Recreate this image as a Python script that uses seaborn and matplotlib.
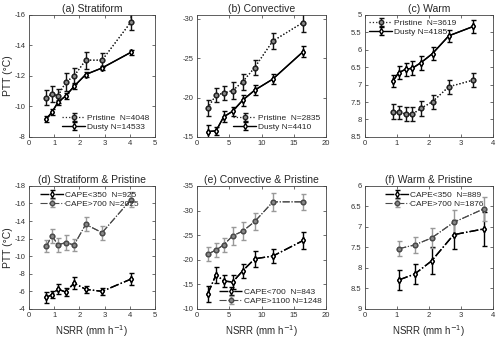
import numpy as np
import pandas as pd
import matplotlib
matplotlib.use("Agg")
import matplotlib.pyplot as plt
import seaborn as sns

sns.set_style("ticks")
plt.rcParams['font.family'] = ['Liberation Sans', 'DejaVu Sans']
plt.rcParams['xtick.direction'] = 'in'
plt.rcParams['ytick.direction'] = 'in'

# ---- data ----
x_a = [0.69, 0.91, 1.15, 1.46, 1.79, 2.25, 2.90, 4.05]
a_pri = [-10.58, -10.82, -10.69, -11.58, -12.0, -13.03, -13.03, -15.54]
a_pri_err = [0.5, 0.5, 0.45, 0.6, 0.5, 0.55, 0.45, 0.55]
a_dus = [-9.18, -9.62, -10.27, -10.69, -11.32, -12.09, -12.52, -13.55]
a_dus_err = [0.2, 0.2, 0.15, 0.2, 0.2, 0.15, 0.15, 0.15]

x_b = [1.65, 2.95, 4.13, 5.53, 7.08, 8.94, 11.73, 16.43]
b_pri = [-18.64, -20.34, -20.55, -20.89, -21.99, -23.81, -27.16, -29.53]
b_pri_err = [1.0, 0.9, 0.9, 1.1, 1.0, 1.0, 1.0, 1.2]
b_dus = [-15.68, -15.76, -17.54, -18.26, -19.66, -20.93, -22.33, -25.81]
b_dus_err = [0.8, 0.5, 0.7, 0.6, 0.7, 0.6, 0.6, 0.7]

x_c = [0.88, 1.05, 1.27, 1.48, 1.75, 2.11, 2.62, 3.39]
c_pri = [7.78, 7.80, 7.84, 7.85, 7.68, 7.49, 7.06, 6.87]
c_pri_err = [0.22, 0.2, 0.2, 0.2, 0.22, 0.2, 0.2, 0.2]
c_dus = [6.89, 6.66, 6.56, 6.53, 6.37, 6.11, 5.60, 5.33]
c_dus_err = [0.17, 0.18, 0.18, 0.2, 0.2, 0.18, 0.18, 0.18]

x_d = [0.69, 0.91, 1.15, 1.45, 1.79, 2.25, 2.90, 4.05]
d_low = [-5.32, -5.62, -6.26, -5.92, -6.94, -6.23, -6.0, -7.40]
d_low_err = [0.6, 0.4, 0.6, 0.5, 0.7, 0.4, 0.4, 0.7]
d_high = [-11.13, -12.34, -11.28, -11.55, -11.28, -13.62, -12.68, -16.45]
d_high_err = [0.7, 0.8, 0.8, 0.9, 0.7, 0.8, 0.8, 0.8]

x_e = [1.66, 2.95, 4.15, 5.54, 7.10, 8.96, 11.76, 16.48]
e_low = [-13.04, -16.96, -15.68, -15.47, -17.77, -20.2, -20.74, -23.92]
e_low_err = [1.7, 1.6, 1.3, 1.4, 1.4, 1.6, 1.4, 1.8]
e_high = [-21.15, -21.96, -23.04, -24.86, -25.81, -27.77, -31.76, -31.76]
e_high_err = [1.5, 1.5, 1.4, 1.8, 1.8, 1.7, 1.8, 1.6]

x_f = [1.07, 1.55, 2.08, 2.77, 3.71]
f_low = [8.29, 8.15, 7.83, 7.19, 7.05]
f_low_err = [0.25, 0.25, 0.33, 0.35, 0.42]
f_high = [7.53, 7.44, 7.27, 6.89, 6.56]
f_high_err = [0.18, 0.2, 0.25, 0.3, 0.3]

titles = ["(a) Stratiform", "(b) Convective", "(c) Warm",
          "(d) Stratiform & Pristine", "(e) Convective & Pristine", "(f) Warm & Pristine"]


def draw(ax, x, y, err, label, st):
    df = pd.DataFrame({'x': x, 'y': y})
    sns.lineplot(data=df, x='x', y='y', ax=ax, color=st['color'], linestyle=st['ls'],
                 lw=st['lw'], marker=st['marker'], markersize=st['ms'],
                 markerfacecolor=st['mfc'], markeredgecolor=st['color'],
                 markeredgewidth=1.0, legend=False)
    h = ax.errorbar(x, y, yerr=err, color=st['color'], ls=st['ls'], lw=st['lw'],
                    marker=st['marker'], ms=st['ms'], mfc=st['mfc'], mec=st['color'],
                    mew=1.0, ecolor=st['ecolor'], elinewidth=1.0, capsize=1.8,
                    capthick=1.0, label=label)
    return h

fig = plt.figure(figsize=(5, 3.38), dpi=100)
lefts = [0.058, 0.394, 0.730]
widths = [0.252, 0.258, 0.256]
bottoms = [0.595, 0.086]
heights = [0.361, 0.364]
axes = []
for r in range(2):
    for c in range(3):
        ax = fig.add_axes([lefts[c], bottoms[r], widths[c], heights[r]])
        axes.append(ax)

pri_style = dict(ls=':', marker='o', color='#222222', ms=3.2, lw=0.9, mfc='#8a8a8a', ecolor='#111111')
dus_style = dict(ls='-', marker='d', color='black', ms=3.0, lw=1.0, mfc='white', ecolor='black')
low_style = dict(ls='-.', marker='d', color='black', ms=3.0, lw=1.0, mfc='white', ecolor='black')
high_style = dict(ls='-.', marker='o', color='#4a4a4a', ms=3.2, lw=0.8, mfc='#8a8a8a', ecolor='#999999')

leg_kw = dict(frameon=False, fontsize=6, handlelength=2.8, handletextpad=0.2,
              labelspacing=0.15)

# (a)
ax = axes[0]
draw(ax, x_a, a_pri, a_pri_err, "Pristine  N=4048", pri_style)
draw(ax, x_a, a_dus, a_dus_err, "Dusty N=14533", dus_style)
ax.set_xlim(0, 5); ax.set_ylim(-8, -16)
ax.set_yticks([-8, -10, -12, -14, -16])
ax.legend(loc='lower right', borderaxespad=0.3, **leg_kw)
# (b)
ax = axes[1]
draw(ax, x_b, b_pri, b_pri_err, "Pristine  N=2835", pri_style)
draw(ax, x_b, b_dus, b_dus_err, "Dusty N=4410", dus_style)
ax.set_xlim(0, 20); ax.set_ylim(-15, -30.5)
ax.set_xticks([0, 5, 10, 15, 20]); ax.set_yticks([-15, -20, -25, -30])
ax.legend(loc='lower right', borderaxespad=0.3, **leg_kw)
# (c)
ax = axes[2]
draw(ax, x_c, c_pri, c_pri_err, "Pristine  N=3619", pri_style)
draw(ax, x_c, c_dus, c_dus_err, "Dusty N=4185", dus_style)
ax.set_xlim(0, 4); ax.set_ylim(8.5, 5)
ax.set_xticks([0, 1, 2, 3, 4]); ax.set_yticks([5, 5.5, 6, 6.5, 7, 7.5, 8, 8.5])
ax.legend(loc='upper left', borderaxespad=0.1, **leg_kw)
# (d)
ax = axes[3]
draw(ax, x_d, d_low, d_low_err, "CAPE<350  N=925", low_style)
draw(ax, x_d, d_high, d_high_err, "CAPE>700 N=2025", high_style)
ax.set_xlim(0, 5); ax.set_ylim(-4, -18)
ax.set_yticks([-4, -6, -8, -10, -12, -14, -16, -18])
ax.legend(loc='upper left', bbox_to_anchor=(0.05, 1.0), borderaxespad=0.2, **leg_kw)
# (e)
ax = axes[4]
draw(ax, x_e, e_low, e_low_err, "CAPE<700  N=843", low_style)
draw(ax, x_e, e_high, e_high_err, "CAPE>1100 N=1248", high_style)
ax.set_xlim(0, 20); ax.set_ylim(-10, -35)
ax.set_xticks([0, 5, 10, 15, 20]); ax.set_yticks([-10, -15, -20, -25, -30, -35])
ax.legend(loc='lower right', borderaxespad=0.1, **leg_kw)
# (f)
ax = axes[5]
draw(ax, x_f, f_low, f_low_err, "CAPE<350  N=889", low_style)
draw(ax, x_f, f_high, f_high_err, "CAPE>700 N=1876", high_style)
ax.set_xlim(0, 4); ax.set_ylim(9, 6)
ax.set_xticks([0, 1, 2, 3, 4]); ax.set_yticks([6, 6.5, 7, 7.5, 8, 8.5, 9])
ax.legend(loc='upper left', bbox_to_anchor=(0.12, 1.0), borderaxespad=0.2, **leg_kw)

for i, ax in enumerate(axes):
    ax.set_title(titles[i], fontsize=7.5, pad=2)
    ax.tick_params(labelsize=5.5, length=2.5, width=0.5, colors='#333333',
                   top=True, right=True, pad=2.5)
    for s in ax.spines.values():
        s.set_linewidth(0.6)
        s.set_color('#444444')
        s.set_visible(True)
    ax.set_xlabel("")
    ax.set_ylabel("")
    ax.yaxis.set_major_formatter(matplotlib.ticker.FuncFormatter(lambda v, p: f"{v:g}"))

for ax in (axes[0], axes[3]):
    ax.set_ylabel("PTT (°C)", fontsize=7.5, labelpad=1)
for ax in axes[3:]:
    ax.set_xlabel("NSRR (mm h$^{-1}$)", fontsize=7, labelpad=3)

fig.savefig("out.png", dpi=100)
